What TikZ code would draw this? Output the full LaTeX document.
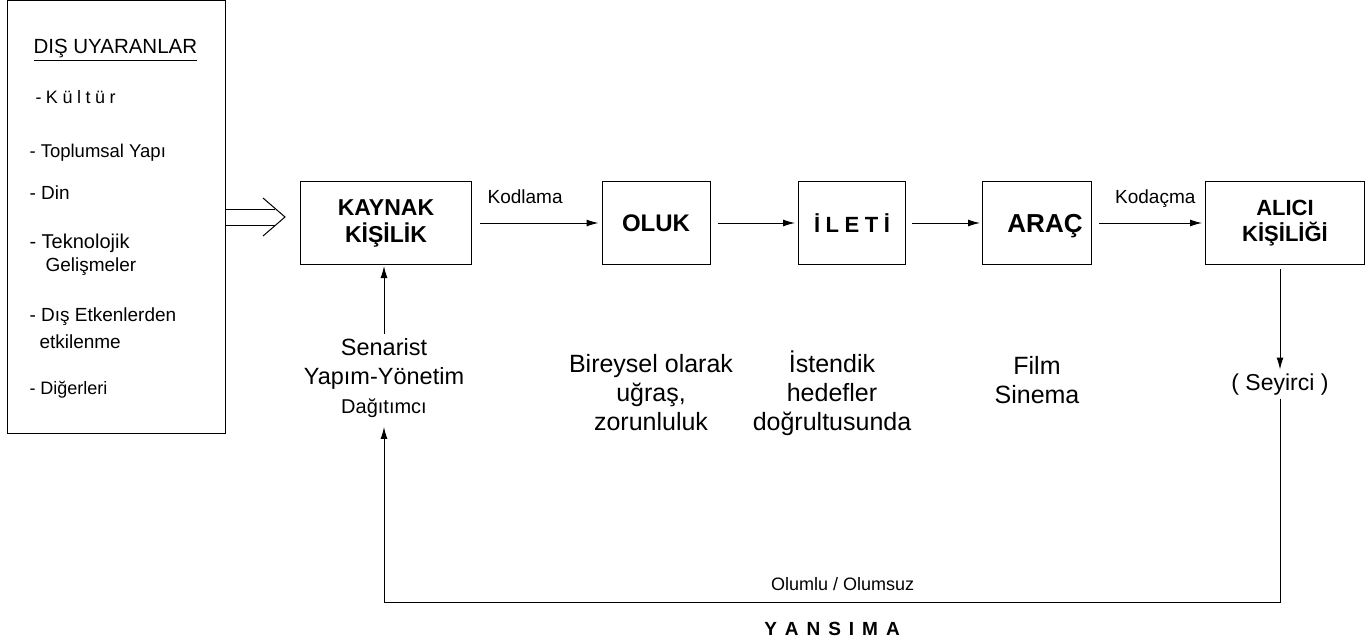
\documentclass[tikz,border=0pt]{standalone}
\usepackage{fontspec}
\setmainfont{Liberation Sans}
\usetikzlibrary{arrows.meta,positioning,decorations.markings}
\newcommand{\harf}{\hspace{0.25em}}
\newcommand{\genis}{\hspace{0.42em}}

\begin{document}
\begin{tikzpicture}[x=1pt,y=-1pt,->,>={Latex[length=12pt,width=7pt]},line width=1pt,
	box node/.style={draw,minimum height=83pt,inner sep=0pt,align=center,font=\bfseries\fontsize{23}{27}\selectfont},
	item node/.style={anchor=west,inner sep=0pt,font=\fontsize{19}{23}\selectfont},
	note node/.style={anchor=base,align=center,font=\fontsize{25}{29}\selectfont},
	label node/.style={anchor=base,yshift=20pt,font=\fontsize{19}{23}\selectfont},
	double line/.style={-,double,double distance=15pt,shorten >=25pt},
	open head/.style={draw=none,-,postaction={decorate},decoration={markings,
		mark=at position -15pt with {\draw[-,line width=1pt] (-22pt,19pt) -- (0pt,0pt) -- (-22pt,-19pt);}}}]
	
	\useasboundingbox (0,0) rectangle (1368,642);
	
	% dis uyaranlar
	\node[draw,minimum width=218pt,minimum height=432pt,inner sep=0pt] (dis) at (116,217) {};
	\node[item node,font=\fontsize{20.5}{24}\selectfont] (baslik) at (33,50) {\underline{DIŞ UYARANLAR}};
	\node[item node,font=\fontsize{18}{22}\selectfont] (kultur) at (35,97) {-\harf K\harf ü\harf l\harf t\harf ü\harf r};
	\node[item node,font=\fontsize{18.5}{22}\selectfont] (toplum) at (29,153) {- Toplumsal Yapı};
	\node[item node] (din) at (29,193) {- Din};
	\node[item node,font=\fontsize{20}{24}\selectfont] (tekno) at (29,243) {- Teknolojik};
	\node[item node] (gelisme) at (45,267) {Gelişmeler};
	\node[item node] (etken) at (29,317) {- Dış Etkenlerden};
	\node[item node] (etkilen) at (39,342) {etkilenme};
	\node[item node,font=\fontsize{18}{22}\selectfont] (diger) at (29,390) {- Diğerleri};
	
	% kutular
	\node[box node,minimum width=171pt] (kaynak) at (386,223) {KAYNAK\\KİŞİLİK};
	\node[box node,minimum width=108pt,font=\bfseries\fontsize{24}{27}\selectfont] (oluk) at (656,223) {OLUK};
	\node[box node,minimum width=107pt,font=\bfseries\fontsize{22}{27}\selectfont] (ileti) at (852,223) {İ\harf L\harf E\harf T\harf İ};
	\node[box node,minimum width=109pt,text depth=0pt,font=\bfseries\fontsize{26}{27}\selectfont] (arac) at (1037,223) {\hspace*{16pt}ARAÇ};
	\node[box node,minimum width=159pt,font=\bfseries\fontsize{22}{26}\selectfont] (alici) at (1285,223) {ALICI\\KİŞİLİĞİ};
	
	% aciklamalar
	\node[note node,font=\fontsize{23.5}{29}\selectfont] (senarist) at (384,413) {Senarist\\Yapım-Yönetim\\{\fontsize{20}{24}\selectfont Dağıtımcı}};
	\node[note node] (bireysel) at (651,430) {Bireysel olarak\\uğraş,\\zorunluluk};
	\node[note node] (istendik) at (832,430) {İstendik\\hedefler\\doğrultusunda};
	\node[note node] (film) at (1037,403) {Film\\Sinema};
	\node[note node,font=\fontsize{23}{29}\selectfont] (seyirci) at (1280,390) {( Seyirci )};
	\coordinate (kose) at (384,602);
	
	\draw[double line] (dis) -- (dis -| kaynak.west);
	\path[open head] (dis) -- (dis -| kaynak.west);
	\draw[shorten <=8pt,shorten >=3pt] (kaynak) -- node[label node,pos=.41] {Kodlama} (oluk);
	\draw[shorten <=7pt,shorten >=3pt] (oluk) -- (ileti);
	\draw[shorten <=6pt,shorten >=2pt] (ileti) -- (arac);
	\draw[shorten <=7pt,shorten >=3pt] (arac) -- node[label node,pos=.56] {Kodaçma} (alici);
	\draw[shorten <=4pt] (alici.south -| seyirci) -- (seyirci);
	\draw[shorten >=1pt] (senarist) -- (senarist |- kaynak.south);
	\draw[shorten >=6pt] (seyirci) |- node[anchor=base,yshift=12pt,pos=.744,font=\fontsize{18}{22}\selectfont] {Olumlu / Olumsuz}
		node[anchor=base,yshift=-33pt,pos=.75,font=\bfseries\fontsize{19}{23}\selectfont] {Y\genis A\genis N\genis S\genis I\genis M\genis A} (kose) -- (senarist);
\end{tikzpicture}
\end{document}
